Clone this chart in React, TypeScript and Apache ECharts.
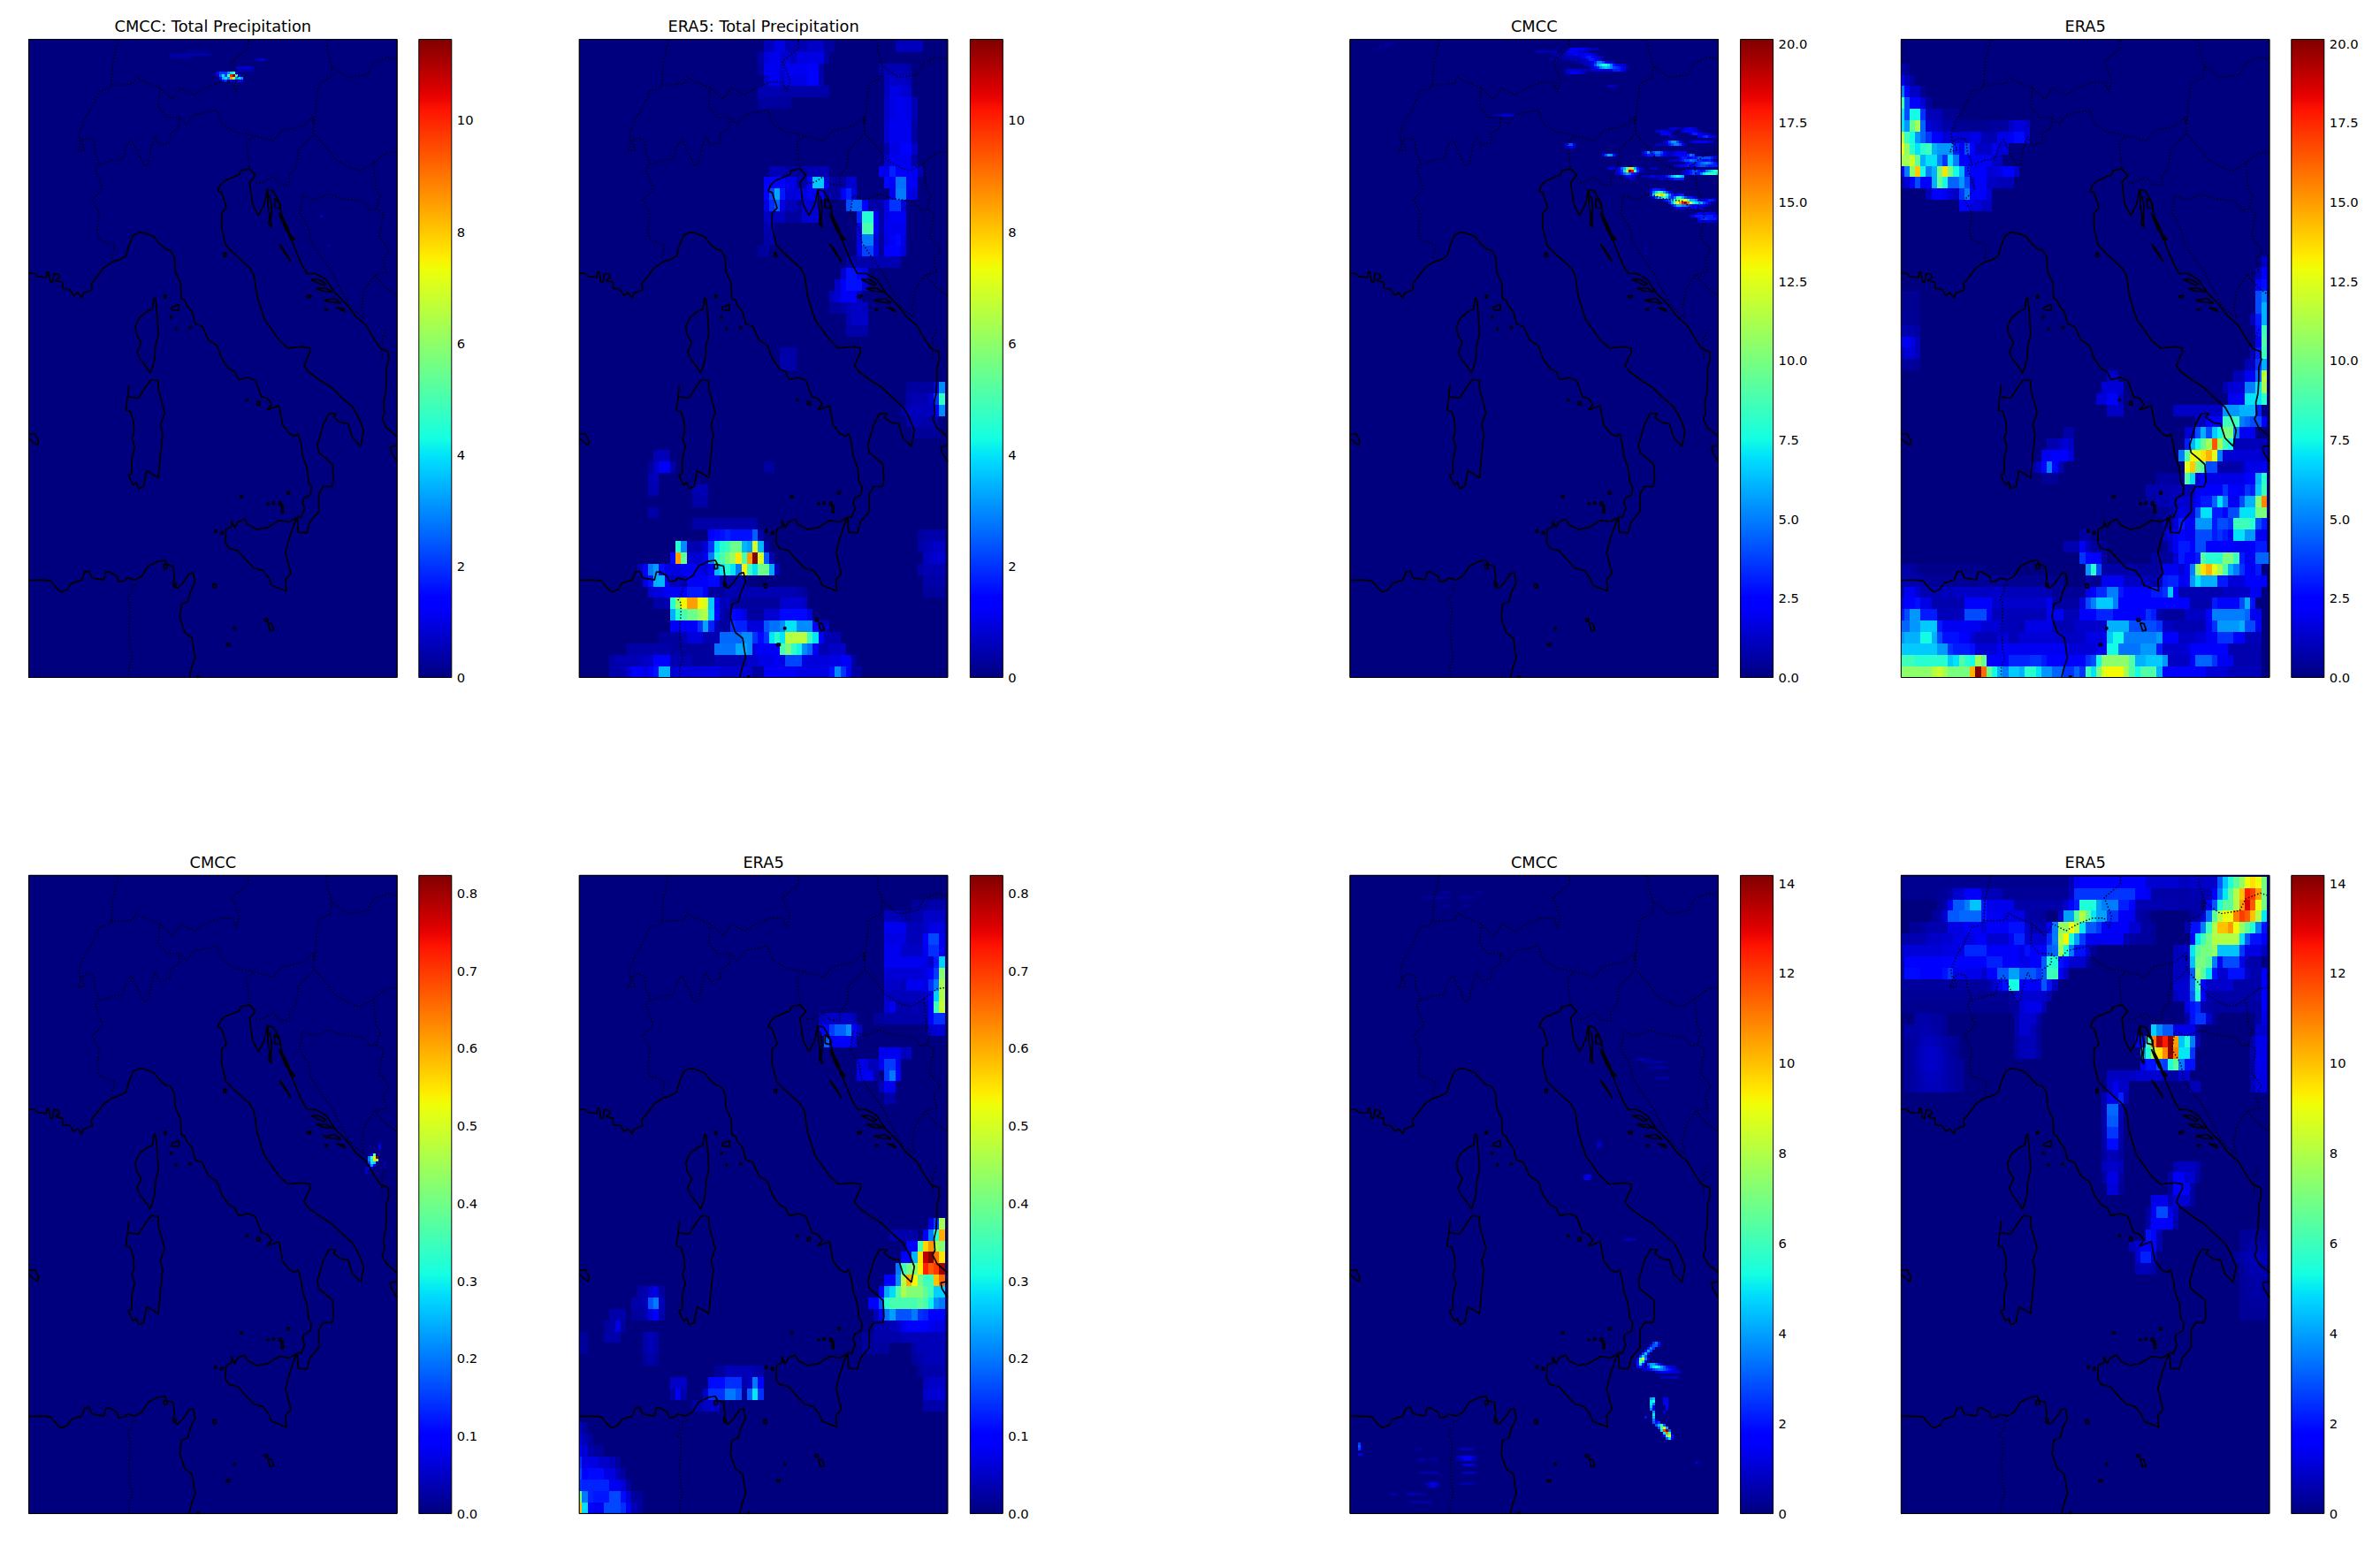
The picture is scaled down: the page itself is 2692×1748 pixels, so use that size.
import React, { useEffect, useRef } from "react";
import * as echarts from "echarts";

const MAP_W = 1251;
const MAP_H = 2166;
const HALF_H = 1083;
const ERA_DX = 18.67;
const ERA_DY = 38.6;
const FINE = 9;

// [row from bottom, first column, ...values]
const era5TotalRows: number[][] = [
  [0,6,.4,.4,.5,.8,1.3,1.2,1,1.4,1.6,3.5,3.5,.8,.9,.9,.9,.9,.9,1,1,1,.8,.8,.8,.8,.8,.8,.3,.3,1.2,1.2,1.2,1.2,1.2,1.2,1,1,1,1,1,1,1.6,3,2,1.2,.3,.3],
  [1,6,.4,.5,.5,.5,.5,.6,.7,.7,1.4,1.4,1.4,.5,.5,.5,.5,.3,.3,.3,.3,.5,.5,.5,.5,.5,.5,.7,.7,1,1,1,1.2,1,2.2,2.2,2.2,1,.9,.9,.9,.9,1,1,1.2,1.2,.3],
  [2,9,.3,.4,.4,.4,.4,.4,.4,.4,.3,.3,.3,.3,.3,.3,.3,.3,2.7,2.7,2.7,2.7,3.3,3.3,3,1,1.2,1.2,1.2,1.2,5,5.7,4.7,4.2,3,2.6,1.2,.5,.5,.7,.7,.7],
  [3,15,.3,.3,.3,.3,.5,.9,.9,.9,.5,.5,.5,2.6,2.6,2.6,2.6,3,3,2,1.5,2,4,4.5,4,6.5,6.6,6.6,6.6,4.8,4,1.3,.5,.5,.5],
  [4,17,1.2,1.2,1.2,1.2,1.2,2,3.3,1.8,.6,.3,.3,1.9,1.8,1.8,.9,.9,.9,2.4,2.7,2.7,3,4,4,3,3,3,1.2,.6,.6],
  [5,17,3.4,4.5,5,5.5,5.5,6.2,6.5,3.8,1.3,.5,.3,1.5,1.4,1,.3,.3,.3,.8,.8,.8,1.5,1.5,1.5,1.5,1.5,.9],
  [6,14,.4,.4,.5,4.5,6,7.4,8.5,8.5,7.4,7,3.7,1.2,.6,.6,.3,.3,.3,.3,.3,.3,.3,.3,.3,.7,.8,.8,.8,.7],
  [7,13,.8,.9,1,1.2,1.2,1.2,1.2,1.7,1.7,1.7,1.2,.3,.3,.3,.5,.5,.5,.5,.5,.5,.5,.5,.5,.5,.5,.5,.5,.4,.3],
  [7,63,.3,.3,.3,.3],
  [8,12,1,1.6,3.4,3.5,1.2,.6,.6,.6,1.2,1.2,1.2,1.2,1.5,1.5,.4,.4,.4,.4,.3],
  [8,63,.4,.4,.4,.4],
  [9,11,.6,1.2,2.8,3.2,1.5,1,1,1,1.2,1.2,1.2,1,.8,1.2,3.5,4,4.5,4,2.8,7.5,4.8,4,5.5,5.5,3.3,.6],
  [9,62,.4,.5,.5,.5,.5],
  [10,17,1.5,8.5,5.5,.8,.8,.8,1.2,2.8,4.5,5,5.7,6.2,7.6,5,8.5,11.4,7,2.4,.5],
  [10,63,.6,.7,.8,.8],
  [11,18,4.5,3,.5,.5,.5,.9,2,4,4.5,4.8,5.5,5.5,3.5,3.2,7,3.5,.4],
  [11,62,.4,.5,.6,.7,.7],
  [12,24,1.3,1.5,1.6,1.8,1.6,1.6,1.6,1.6,2.5,.4],
  [12,62,.3,.4,.4,.4,.4],
  [13,21,.4,.4,.4,.4,.4,.4,.4,.4,.4,.4,.4,.4],
  [14,13,.4,.4],
  [15,21,.4,.4,.4],
  [16,13,.5,.5,0,0,0,0,0,0,.5,.5,.5],
  [17,13,.5,.6],
  [18,13,.3,.7,1.2,1.2,.4],
  [18,34,.3,.3],
  [19,14,.5,.6,.5],
  [21,61,.25,.25,.25,.25,.25],
  [22,60,.4,.5,.5,.4,.4,.3],
  [23,59,.4,.5,.6,.6,.6,.6,1.2,3],
  [24,60,.4,.5,.5,.5,.8,2,4.7],
  [25,60,.3,.3,.3,.3,.3,.8,3],
  [27,37,.4,.4,.4],
  [28,37,.4,.4,.4],
  [30,49,.4,.4,.4,.4],
  [31,49,.5,.7,.7,.7],
  [32,46,.3,.3,.4,.6,.7,.7,.6],
  [33,46,.6,.8,1.2,1.2,1.2,.6],
  [34,47,.7,1.2,1.6,1.6,1.6,.8],
  [35,48,.8,1.6,1.6,1.3,1],
  [36,49,.4,.4,.4,.4,.4,.5,.5,.5,.5,.5],
  [37,33,.3,.3],
  [37,51,1,2.2,2.2,1,.3,1.3,1.3,1.3,.9],
  [38,34,.4,.4],
  [38,51,1,2.8,2.8,.8,.3,1,1.2,1.5,1],
  [39,34,.5,.5],
  [39,51,1.1,5,5,1.2,.4,1.1,1.1,1.1,1.1],
  [40,34,.7,.6,.6,.6,.3,.3,.3,.8,.8,.8],
  [40,51,1.8,4.5,4.5,1.1,.4,1,1.2,1.2,1.2],
  [41,34,1,1.9,2.5,1,.6,.6,.3,.8,.8,.8],
  [41,49,2.3,2.6,2.6,1.3,.4,.4,.4,1,2,2,.9],
  [42,34,1.3,2.2,3.3,1.7,.9,.9,1,1,1.2,1.2,1.2,.4,.3,.3,1.2,1.8,1],
  [42,57,1.1,2.8,2.8,1.1,.9],
  [43,34,1.3,1.3,1.3,1.3,1,1,.4,.4,1.2,3.7,3.7,1.1,.3,.3,.3,.8,.8],
  [43,56,1.5,1.3,2.7,2.7,1.2,1.2],
  [44,35,.5,.5,.5,.3,.3,.3,.3,.5,.5,.5,.5],
  [44,55,1.1,1.1,1.8,1.3,1.2,1.2,1.2,.5],
  [45,56,.8,1.1,1.1,1.1,1.1,.3],
  [46,56,.4,1,1,1.3,1.3,.7],
  [47,56,.8,1.1,1.1,1.1,1.1,.3],
  [48,56,.8,1.1,1.1,1.1,1.1,.3],
  [49,56,.7,1,1.1,1.1,1,.5],
  [50,33,.3,.3,.3,.3,.3,.3],
  [50,56,.7,1,1.1,1.1,1,.5],
  [51,33,.5,.5,.5,.5,.4,.4,.4,.4,.4,.4,.4,.4,.4],
  [51,56,.6,1,1,.8,.8],
  [52,34,.7,1.1,1.1,.7,1,1,1,1,1.25,1.25,.5],
  [52,56,.6,.7,.7,.7,.6],
  [53,33,.3,1.1,1.1,1.1,.8,1.1,1.1,1.1,1.1,1.25,1.25,.4],
  [53,55,.4,.5,.5,.5,.5,.4],
  [54,33,.4,.9,1.1,1.1,.8,.8,.6,1,1,1,1,1,.4],
  [55,34,.6,.6,1,1,.5,.5,.5,.5,.7,.7,.7,.3,.3],
  [55,58,.6,.6,.6,.6,.6],
];

const era5BandARows: number[][] = [
  [0,0,.58,.28,.1,.08,.08,.16,.16,.16,.14,.08,.04,.02],
  [1,0,.4,.2,.13,.12,.12,.12,.16,.16,.11,.06,.02,.02],
  [2,0,.14,.13,.13,.13,.13,.13,.08,.08,.06,.02],
  [3,0,.16,.1,.11,.11,.11,.07,.07,.04,.02],
  [4,0,.14,.07,.07,.07,.05,.05,.04,.02],
  [5,0,.1,.06,.03,.02,.02],
  [6,0,.07,.04,.02],
  [7,0,.05,.02],
  [9,21,.03,.03,.05,.05,.05],
  [9,63,.03,.03,.03,.03],
  [10,17,.03,.08,.03,0,0,0,.05,.14,.14,.14,.2,.2,.17,.02,.18,.29,.14],
  [10,63,.05,.06,.06,.06],
  [11,17,.05,.05,.05,0,0,0,0,.11,.11,.11,.14,.14,.14,.03,.05,.2,.09],
  [11,63,.04,.05,.05,.05],
  [12,25,.02,.02,.04,.04,.04,.04,.04,.03,.03],
  [12,62,.02,.03,.03,.03,.03],
  [13,12,.02,.03,.02],
  [13,61,.02,.03,.04,.04,.04,.04],
  [14,0,.02,.02,0,0,0,0,0,0,0,0,0,0,.03,.04,.03],
  [14,52,.02,.02,.02,.02,.02,0,0,0,0,.03,.04,.04,.04,.04,.04],
  [15,0,.02,.02,0,0,0,.03,.03,.03,0,0,0,0,.03,.04,.03],
  [15,52,.02,.02,.03,.03,.03,.03,.03,.04,.04,.04,.04,.04,.04,.04,.04],
  [16,5,.02,.03,.07,.02],
  [16,54,.03,.03,.03,.04,.05,.08,.1,.09,.09,.09,.08,.07,.07],
  [17,6,.03,.03,.03,0,.02,.02,.03,.07,.1,.03],
  [17,54,.04,.1,.2,.23,.17,.17,.17,.2,.14,.13,.1,.1,.1],
  [18,10,.03,.03,.04,.17,.2,.04],
  [18,53,.1,.1,.17,.33,.36,.36,.36,.36,.36,.38,.36,.3,.22,.2],
  [19,11,.03,.03,.06,.07,.02],
  [19,55,.1,.24,.28,.37,.46,.42,.42,.42,.38,.35,.27,.27],
  [20,56,.09,.1,.22,.47,.6,.53,.4,.35,.35,.58,.66],
  [21,58,.2,.35,.4,.42,.54,.72,.67,.7,.8],
  [22,59,.1,.1,.25,.55,.78,.82,.65,.55],
  [23,60,.1,.1,.36,.56,.62,.45,.42],
  [24,57,.03,.03,.03,.03,.03,0,.09,.2,.33,.6],
  [25,64,.07,.15,.45],
  [36,56,.03,.03],
  [37,55,.04,.08,.08],
  [38,51,.08,.08,.08,.03,0,.15,.2,.1],
  [39,51,.07,.07,.04,.04,.08,.15,.15,.08],
  [40,55,.08,.08,.08,.08,.04,.05],
  [41,45,.18,.1,.1,.1,.1,.06],
  [42,44,.1,.1,.15,.18,.18,.22,.1,.05],
  [42,64,.06,.06,.06],
  [43,44,.04,.05,.05,.05,.05,.05,.04,0,0,0,.02,.02,.03,.03,.03,.03,.03,.03,.03,.03,.09,.14,.14],
  [44,56,.06,.08,.03,.03,.03,.04,.03,.03,.1,.35,.48],
  [45,56,.05,.04,.04,.04,.04,.04,.04,.05,.1,.27,.46],
  [46,56,.05,.05,.05,.04,.08,.08,.08,.07,.14,.2,.45],
  [47,56,.06,.06,.06,.06,.06,.06,.06,.07,.09,.15,.42],
  [48,56,.08,.08,.08,.08,.08,.08,.08,.07,.05,.12,.27],
  [49,56,.08,.08,.08,.05,.05,.05,.05,.08,.14,.14,.08],
  [50,56,.07,.07,.07,.07,.04,.04,.04,.09,.16,.16,.08],
  [51,56,.08,.08,.08,.08,.04,.04,.04,.05,.07,.07,.07],
  [52,56,.04,.04,.04,.02,.02,.03,.03,.05,.05,.05,.05],
  [53,61,.02,.02,.02,.03,.03,.03],
];

const era5BandBRows: number[][] = [
  [0,0,10.5,10.5,10.5,10.5,10.5,10.5,11.5,12,11,10,10,10,10,14.5,20.2,16,9.5,7.5,6,5,6.5,6.5,6,8,8,7,5.5,5.5,4.5,4.5,3.5,3.5,4.5,3.5,8.5,7,10,12.5,13,13,13,11,9,7.5,9,9,9,6,2.5,2.5,2.5,2.5,2.3,2.3,2.3,2.3,1.5,1.5,1.5,1.5,1,1,1,1,1,1],
  [1,0,8.5,8.5,8.5,8,8,8,8,8,8,6.5,7,9,8,7.5,11,9.5,2.5,2.5,2.5,2.5,3.2,3.2,3.2,3.2,3.5,3.5,3,2.5,2.5,2.5,2.2,2.2,2.2,2.2,3.5,4,7.5,10.5,10.5,10.5,10.5,10.5,9,6,6,6.5,6.5,6.5,5.5,1.2,1.2,1.2,1.2,2.5,4.5,4.5,4.5,3.5,2,2,2,.8,.8,.8,.8,.8],
  [2,0,6.5,6.5,6.5,6.5,6.5,6.5,6.5,5.5,5.5,3.5,3,3,3,2.8,1.5,1.5,1.5,1.5,2,2,2,2,2,2,2,2,2,2,2,2,2,1.5,1.5,1.5,1.5,1.5,2,2,7.5,7.5,4.8,4.8,4.8,4.8,5.5,5.5,5.5,3,1.3,1.3,1.3,1.3,1.5,2.5,2.5,2.5,2.5,2.5,2.5,2.5,.8,.8,.8,.8,.8,.8],
  [3,0,5.5,6,6,6,7.5,7.5,6,4,2.8,2.8,2.8,2.5,2.5,1.5,1,1,1,1,1.5,1.5,1,1,1.5,1.5,1.5,1.5,1.5,1.5,1.5,1.2,1.2,1.2,1.2,1.2,1.8,1.8,1.8,1.8,6.5,7.5,7.5,5,5,5,5,5,5,5.5,2.2,2.2,2.2,1.2,1.2,1.2,1.5,1.5,2,2,3.5,3.5,3.5,2.5,2.5,1,1,1],
  [4,0,4.5,4.5,5.5,5.5,6.5,6.5,6.5,3,2,2,2,2,2,2,2,1.5,1.5,1.5,1.5,1,1,1,.8,1.8,1.8,1.8,1.8,1.8,.9,.9,.9,.9,1.3,1.3,1.3,1.3,1.3,1.3,6,6,6,6,4,4,4,4,4,3.5,1.2,1.2,.9,.9,.9,.9,.9,.9,2,3.5,5.5,5.5,5.5,5.5,6,4,4,2],
  [5,0,3,4,5.5,5.5,3,3,3,1,1,1,1,1.2,4,4,4,4,2,1,1,1,1,1,1,1,1,1,.9,2,2,2,1,1,1,2.2,2.2,2.2,3.2,3.2,3.2,2.2,2.2,2.2,2.2,2.2,2.5,3.5,3,.8,.5,.5,.5,.5,1.2,1.2,1.2,1.2,2.5,5,5,5,5,5,5,4.5,2,2],
  [6,0,1.8,2.3,2.3,2.8,1.8,1.8,.8,.8,.8,.8,.8,.8,2.4,2.4,2.4,2.3,2.3,1.3,1.3,1.3,1.3,1.3,1.3,1.3,1.3,1.3,1.3,2,.6,.6,.6,.6,.6,1.7,4,5,6.5,6.5,6.5,5,2.5,2.5,2.5,2.5,2.5,2.5,2.5,2.5,2.5,2.2,2.2,2.2,2.2,.8,.8,.8,.8,3,2.6,2.6,2.6,2.6,4,6,2.8],
  [7,0,.9,2,2,1.5,.9,.9,.9,.9,1.2,.9,1.2,1.2,1.2,1.2,1.2,1.2,1.2,1.3,1.3,1,1,1,1,1,1,1,1,.8],
  [7,28,.4,.4,.4,.4,.4,.4,1.8,2.4,3.3,3.3,5,5,3,2.5,2.5,2.5,2.5,2.3,3,3,3.5,6.5,2.2,.9,.9,.9,.9,.9,.8,.8,.8,1.2,1.2,1.2,1.2,1.2,2,2],
  [8,0,.8,.9,.9,.8,.6,.4,.4,.4,.4,.4,.4,.4,.4,.4,.4,.4,.4,.4,.4,.4,.4,.3,.3,.3,.3,.3,.3,.3,.3,.3],
  [8,34,.7,.3,.3,2,2,2,2,1.2,1.2,1.2,1.2,1,.7,1,3,3.2,3.2,2,2,5.5,7,6,6,6,3,3,1.5,1.5,1.5,2.5,2.5,2.5,2.5],
  [9,0,.7,.7,.6,.4,.2,.2,.2,.2,.2,.2,.2,.2,.2,.2,.2,.2],
  [9,34,5.5,8,4,.7,.7,.7,.7,.7,.7,.5,.5,.5,.5,.5,2,2,2,1.5,2.5,5,10.5,13.5,14.5,12.5,11,9,6,5,3.5,2.5,2,3],
  [10,33,3.5,2.5,2.5,2.5,.5],
  [10,46,.6,.6,.5,.5,1.5,3,2.5,2.5,3,9,8,8,8,10,10,8.5,3,2,2,4.5,4.5,4.5],
  [11,30,.8,.8,.8,2,1,.6,.4,.4],
  [11,48,.3,1.2,2,3,3,2.5,4,4,2.3,2.3,2.3,2.3,2.3,2,2,2,2.5,3,3],
  [12,33,.6,.6],
  [12,48,1.3,1.3,2,2.6,2,2,4,4,4,3,3.5,3,2,7,7,5.5,5.5,2,2],
  [13,48,.7,.6,1.5,3,2.5,2,5.5,5.5,5.5,3,4,4,3.5,8.5,8.5,8.5,8,4,3],
  [14,47,.4,.4,.5,1.2,1.8,1.5,1.5,4,7,7,3,3,2.5,4,4,7,7,7,10,10],
  [15,45,.5,.5,.8,.8,1,1,1.4,1.4,1.4,2.2,3,3,4.5,7,5,2,2,4,6,6,10.5,15.5],
  [16,45,.8,.8,.8,.8,.8,1,.8,.8,.8,2,2.2,2.2,2.2,2.2,3.5,2.5,2.5,2,3.5,3,6.5,8.5],
  [17,26,.4,.4,.4],
  [17,47,.6,.6,.6,.5,.6,9,7,1.5,2.5,1.8,1.8,1.8,1.8,1.8,1.8,1.8,2.5,2.5,6,8],
  [18,24,.6,1.2,2.6,5,2.5,1],
  [18,52,12.5,14,10,9,4,4,.8,.7,.7,.7,.9,1.8,1.8,1.8,2],
  [19,26,2,2,2.5,2.5,2.5,1.5],
  [19,51,5,9,13,12.5,13.5,14.5,12.5,5,1.5,1.5,1.5,1.5,1.5,1.5,1.5,1.2],
  [20,27,.8,.8,1.2,1.5,1.1],
  [20,52,3,6,7.5,9.5,11,16.5,11,8.5,7.5,1,1,1,1,1,1],
  [21,30,.7,.7],
  [21,52,1.5,1.5,4,6,4,6.5,7.5,10,10,5,2,2,2],
  [22,54,1,1,2.5,2.5,2.5,8.5,8.5,8.5,5,4.5,4,4,2.5],
  [23,38,1.2,1.2,1.2],
  [23,50,1.2,1.2,1.2,1.2,1.2,1.2,1.2,1.2,1.2,5.5,5.5,5.5,6,6,6,3],
  [24,36,1.5,1.5,2.5,2.5,1],
  [24,60,2,2,2,7,7,7,8],
  [25,37,1.5,1.5,1.5,1.5],
  [25,59,.8,1.5,1.5,1.5,5,5,7,11],
  [26,38,1.2,1.2],
  [26,61,1,1,2,2,4.5,11.5],
  [27,0,.5,.5,.5,.4],
  [27,63,1,1,3.5,6],
  [28,0,1.2,1.5,1.5,1],
  [28,64,1,3,8.5],
  [29,0,2,2,1.8,1],
  [29,65,2,9],
  [30,0,.8,.8,.8,.6],
  [30,65,2.8,8.5],
  [31,0,.4,.4,.4,.3],
  [31,64,1,3,6],
  [32,0,.3,.3,.3,.3],
  [32,65,4,6],
  [33,0,.3,.3,.3,.3],
  [33,65,4,5],
  [34,65,2.5,2.8],
  [35,65,1,2.4],
  [36,66,1.3],
  [41,11,2.5,2.5,1.6,1.6,1.2,1.2],
  [42,5,1,2.2,2.2,2,1.5,1.2,3.5,5,2.5,2.4,2.4,1.5],
  [43,0,.8,1.5,2.5,4,2.5,2.5,6,9.5,7.5,4.5,4.5,5.5,4,1.5,2.2,2.2,1.2,1.2,1,1,1],
  [44,0,2.5,5,10.5,14,7.5,5,6,10,13.5,10,7.5,6,3,2.2,2.2,2.2,1.5,1.5,1.7,2.5,2.5,1.4],
  [45,0,11,11,12,9.5,6,7,7,5,3.5,7,5,2.2,2.5,2,2,2,2,1.2,1.2],
  [46,0,12.8,10.5,8,7,8,8.5,6,5.5,5.5,5.5,3,2,4,2.2,1.2,1.2,1.2,2,1.5,1.5],
  [47,0,11.5,8.5,7.5,5.5,4.5,3.5,2.2,2.5,1.5,1.5,1.5,1.5,1.5,1.8,1.8,.9,.9,.9,1.8,1.8,2,2.7,2.7,1.5],
  [48,0,7,5.5,9.5,11,4.5,1.5,1.3,1.1,.7,.7,.4,.4,.3,.3,.3,.3,.4,.5,.5,.6,1.2,1.6,1.6,1.2],
  [49,0,7,4,7.5,7.5,3.5,1,1,1,.4,.3,.3],
  [50,0,8.5,4,2.5,2.5,1.5,.5],
  [51,0,5,2.5,1.2,1.2,.3],
  [52,0,2.5,1,.6],
  [53,0,.8,.4],
];

const era5BandCRows: number[][] = [
  [17,62,.3,.3,.3,.3,.3],
  [18,62,.3,.3,.4,.4,.4],
  [19,62,.3,.4,.4,.5,.4],
  [20,62,.3,.4,.5,.5,.5],
  [21,43,.6,.7,.7,.5],
  [21,62,.3,.5,.6,.6,.6],
  [22,43,1,2.2,2.2,1],
  [22,61,.3,.5,.6,.7,.7,.7],
  [23,42,.7,1,1.5,1.5,1.8,.5],
  [23,62,.3,.4,.5,.5,.4],
  [24,45,2,1.8,.6],
  [24,62,.3,.3,.3,.3,.3],
  [25,45,.5,1.6,1.6,1.6,1.6,.5],
  [26,45,.4,1.4,2.8,2.8,1.3,.8],
  [27,46,1.3,1.3,1.3,.6,1,1,1,.4],
  [28,38,1.1,1.1,.3,0,0,0,0,0,0,0,0,.3,1.7,1.7,1.7,.4],
  [29,37,.4,1.2,1.2,.4,0,0,0,0,0,0,0,0,.5,1.5,1.5,1,1,.4],
  [30,37,.7,.9,.9,.7,0,0,0,0,0,0,0,0,0,.6,.8,.8,.8,.6],
  [31,37,.4,.7,.7,.4],
  [32,37,.5,1.9,1.9,.5],
  [33,37,.5,2.5,2.5,.6],
  [34,37,.6,3,3,.6],
  [35,37,.5,3.2,3.2,.7],
  [36,37,.6,1.3,1.3,2.2,.6],
  [37,1,.3,.4,.5,.6,.7,.7,.7,.6,.5,.4,.3],
  [37,38,.9,1.3,.9,.9,0,0,0,0,0,0,0,0,0,0,0,.7,.7],
  [37,64,.6,1.2,1.2],
  [38,1,.3,.4,.5,.7,.8,.8,.7,.6,.5,.4,.3],
  [38,38,.8,.8,.8,.8,.8,1,1,1,1,1,.5,.5,.5,1,1],
  [38,64,.6,1.2,1.2],
  [39,1,.3,.4,.6,.8,.9,.9,.8,.6,.5,.4,.3],
  [39,44,1.4,2,2,2.8,2.6,5.5,6.5,3.5,2,2],
  [39,64,.6,1.3,1.3],
  [40,1,.3,.4,.6,.8,.9,.9,.8,.6,.4,.3],
  [40,21,.4,.7,.7,.7,.4],
  [40,44,4,5.5,8,9.5,10.8,14,11,5,5,2.5],
  [40,64,.6,1.3,1.3],
  [41,1,.3,.4,.5,.7,.8,.7,.6,.5,.4,.3],
  [41,21,.4,.7,.7,.7,.4],
  [41,43,1.2,2,6,11,13.5,12.5,14,10.5,4.5,5.5,3.5,.6],
  [41,64,.6,1.3,1.3],
  [42,1,.5,.5,.5,.6,.6,.5,.4,.3],
  [42,21,.5,1,1,.7,.3],
  [42,46,4.7,3.7,3,3,1.3,1.3,1.3,1.3,.4],
  [42,65,1,1],
  [43,3,.5,.5,.5,.4,.4,.3],
  [43,21,.5,1,1,1,.5],
  [43,52,.5,2,2.5,2.5,1,.3],
  [43,65,.5,1.2],
  [44,0,.2,.2,.2,.2,.2,.2,.2,.2,.2,.2,.2,.2,.2,.2,.2,.2,.2,.2,.2,.2,.3,.4,1,1.3,1.3,1.3,.7],
  [44,52,1.2,2,2.3,.6,.5,.4,.4,.4,.4,.4,.4,.4,.4,.4,1.5],
  [45,0,.25,.25,.25,.25,.25,.25,.25,.25,.25,.25,.25,.25,.25,.25,.25,.25,.25,.25,.25,.25,.4,.9,1,1,1,1,1,.6],
  [45,50,.8,1,1,3,5.5,1.6,.6,.5,.5,.5,.5,.5,.5,.5,.5,.6,1.7],
  [46,0,.35,.35,.35,.35,.35,.35,.35,.35,.35,.35,.35,.35,.35,.35,.35,.4,.5,1,1.5,2,5.3,5.3,1.5,1.6,1.6,1.6,3,2,.8],
  [46,50,1,1,1,3.3,6,1.8,.9,.9,.9,1,1,.5,.5,.5,.5,.5,1.5],
  [47,0,.6,1.9,1.9,1.9,1.6,1.6,1.6,1.6,2,2.5,1.3,1.3,1.3,1.3,1.3,.9,1.7,1.7,3,3,4,4,3,3,3,2.5,3,6,6,1.5,.8],
  [47,50,.8,.8,.8,3,7.5,6.5,5,2,1,1,2,2,2,.8,.6,.6,1.5],
  [48,0,.7,1.7,1.7,1.7,1.6,1.6,1.6,1.6,1.8,1.8,1.8,1.6,1.6,1.6,1.6,1.6,2.2,2.2,2.2,1.5,1.5,1.5,1.3,1.3,1.7,1.7,3,5.5,5.5,2,1.6,1,1,1,.4],
  [48,50,.8,.8,.9,4.5,7,7,6.5,3.5,1.5,2.8,2.8,2.8,1.3,.6,.5,.5],
  [49,0,.9,1.1,1.1,1.1,1.1,1.1,1.1,1.1,1.2,1.2,1.2,1.2,2.3,2.3,2.3,2.3,1.5,1.5,1.5,1.5,1.5,1.5,1.2,2,1.5,1.7,1.7,3,3.2,7.5,5.5,3.5,2,2,1,.4],
  [49,50,.7,.8,1.2,5,6.5,7,7,7.5,4.5,4.5,4.5,4.5,2.5,1.2,1.2,1.2,.8],
  [50,0,.5,.5,.6,.6,.6,.8,.9,.9,1,1,1.2,1.2,1.2,1.2,1.5,1.5,1,1,1,1,1.4,2.3,2.3,1,1,1,1,2.3,3.5,8,9.2,5.5,4,2.6,1.4,1.4,1.4,1.4,1.4,1.4,1.4,.6,.5,.4,.4,.4,.3],
  [50,53,1.5,5,6,7,8,8,8,8,8,5,3,2,2,1.5],
  [51,2,.3,.3,.4,.6,.6,.6,.6,1.2,1.2,1.2,1.5,1.5,1.5,1.1,1.5,1.5,1.5,1.5,2,2,2,1,.6,.6,.6,1.6,3.5,7.5,7.5,9,8,5,3,3,2.5,1.5,1.5,1.5,1.5,1.5,1,1,.4,.4,.3],
  [51,52,.6,2,2,3.5,6,8,10,10,10.6,9,7.5,6.5,5.5,3.5,2],
  [52,6,.3,.5,1,3,3,3.2,3.2,3.2,3.2,2,1.4,1.4,1.4,1.2,1.2,1.2,1.2,.5,.4,.4,.3],
  [52,29,1,4,4,6.5,8,6.5,5,4,4,2.5,2.5,1.5,1.5,1.4,.5,.4,.3],
  [52,53,.4,.5,1,3.3,6.5,8,9,9,11,12,11.5,10,8,5],
  [53,7,.3,.5,1.5,3,3,3.5,4.5,4.5,2,1.3,1.3,1.3,1.3,1.3,.5,.5,.5,.5,.5,.5,.5,.5,.5],
  [53,30,1,1.6,2.2,5.5,5.5,5.5,4,3.5,3.5,3.5,2.2,2.2,1.8,.6,.6,.6,.6,.6,.6,.6,.6,.5,.5,.5,.5],
  [53,56,1.5,3,5.5,6.5,6.5,8,10.5,13,11.6,9,7],
  [54,0,.2,.2,.2,.2,.2,.2,.2,.3,.3,.5,1,1,1.5,1.5,1.5,.7,.7,.7,.7,.3,.3,.3,.3,.3,.3,.3,.3,.3,.3,.3,.3,.8,2.5,2.5,2.5,2.5,2.5,2.5,2.5,2.5,2.5,2.5,2.5,1.7,1.7,1.4,.5,.5,.5,.5,.5,.5,.5,.6,.6,.6,.6,1.6,3.5,5,6.5,8,10,12.5,12,10.5,7],
  [55,0,.2,.2,.2,.2,.2,.2,.2,.2,.2,.2,.2,.2,.2,.2,.2,.2,.2,.2,.2,.2,.2,.2,.2,.2,.2,.2,.2,.2,.2,.2,.2,.7,1.4,1.7,1.7,1.7,1.7,1.7,1.7,1.7,1.7,1.7,1.7,1.7,1.7,1,1,1,1,1,1,.8,.8,.9,.9,.9,.9,.9,3,4.5,5.5,6.5,7.5,9,9.5,9,7],
];

// [row from top, first column, ...values] on the fine CMCC mesh
const cmccTotalRows: number[][] = [
  [4,60,.2,.2,.2,.2,.2,.2,.2,.2],
  [5,53,.3,.3,.4,.4,.4,.4,.4,.4,.4,.4,.4,.4,.4,.4,.3,.3],
  [6,53,.2,.2,.3,.3,.3,.3,.3,.3,.3],
  [7,85,.3,.5,.8,.8,.4],
  [10,78,.6,.8,.8,.8,.8,.8,.6],
  [11,79,.5,.5,.5,.5,.5,.5],
  [12,71,1.5,2,2,2,3,4,5,1.5],
  [13,71,1,2.5,4,2,5,10,11.4,5,1],
  [14,72,1.5,3.5,4,3,8.5,6,3,4,3],
  [15,73,1.5,2,0,1,.5,0,1.5,1],
  [66,110,.8],
  [77,113,.4],
];

const cmccBandARows: number[][] = [
  [101,132,.06],
  [102,132,.08],
  [103,132,.05],
  [105,129,.1,.4],
  [106,128,.2,.35,.5,.82],
  [107,128,.2,.3,.55,.4],
  [108,128,.15,.3,.28,0,0,0,.04],
  [109,128,.1,.22,.1,0,0,0,.04],
  [110,127,.05,.08,.05,0,0,0,0,.04],
  [111,127,.05],
  [112,127,.04],
];

const cmccBandBRows: number[][] = [
  [1,13,.4,.4,.4,.4],
  [2,11,.4,.4,.4,.4],
  [3,9,.4,.4,.4],
  [3,82,1.5,2,2.5,2.5,2,2,1.5,1.5,1.5,1,1,.8],
  [4,70,1,1,1,1,.8,.8,.8,.8,0,0,0,1.5,2,2,2,2,1.5,1.5,1,1],
  [5,76,.6,.6,.6,.6,1,1,1.5,1.5,2,2,1.5,1.5,2,2,2,1.5,1],
  [6,78,.6,.6,.6,1,1,1,1,1,1,2,2,3,3,2.5,2,1.5,1,.8],
  [7,75,.6,.6,.6,0,0,.6,.6,.6,1,1,1,1,1,1,2,3,3,2.5,1.5,1],
  [8,85,.6,.6,1,1,1,1,1.5,3,5,5,4,2.5,1.5,1.5,1],
  [9,88,1,1,1.5,2,4,6,7,8,8,7,5,3,2,1.5,1.5,1],
  [10,90,1,1,2,3,5,6,6.5,6,5,4,3.5,3,2.5,2,1],
  [11,81,1,1.5,1.5,1.5,1.5,1.5,1,1,.8,1,1.5,1.5,1.5,1.5,1.5,1.5,1.5,2,3,3,3,2.5,1.5],
  [12,81,1,1.5,2,2,2,1.5,1.5,1],
  [17,97,1,1.2,1,.6],
  [28,54,.6,.6,1,1.5,1.5,1.5,1.5,1,.6],
  [33,120,1,1.5,1.5,1,.8,.8,1.5,2,2,1.5,1],
  [34,115,1,1.5,2,2,1.5,1,1,0,0,0,1.5,2.5,2.5,2,2,1.5,1],
  [35,117,2,2.5,2.5,2,0,0,0,0,0,0,0,1.5,3,3,2.5,2,1.5,1,1],
  [36,120,1,1,.8,0,0,0,0,0,0,0,0,1.5,2,3,3.5,2.5,2,1.5],
  [38,118,1,2,4,5.5,5.5,4,2,1,0,0,1,1.5,2,2,2.5,2.5,2,1.5,1.5],
  [39,81,2,4,4,2],
  [39,115,1,1,1,1,1.5,3,4,5,5,4,2,1],
  [40,81,1,2,2,1],
  [42,110,1.5,3,5.5,3,4,5,5,4,2,1.5,1,1,1.5,2,2,2,2],
  [43,95,2.5,4,6,5.5,3,1],
  [43,110,1,1.5,3,3,3,4,4,3,2,1.5,1,1.5,2,2.5,2.5,2,2,3,5,4],
  [44,124,2,3,3,2,2,3,3,4,4,4,4,4,3,2,1],
  [45,120,1,1,1.5,1.5,2,3,4,4,5,4.5,4,3.5,3,2,2.5,3,2],
  [46,126,1.5,2.5,3,3.5,3,3.5,4.5,5,5.5,5,4,3,2.5],
  [47,122,1,1.5,2,2,2.5,3,2.5,2,3,3.5,4,4,3.5,3,3,3,3],
  [48,97,1.5,2,1.5,1.5,2.5,4.5,6,9,14,10,6,3,1.5,.8,0,0,1,1,1],
  [49,100,1.5,2,3.5,7,14,20,18,9,4,1.5,.8],
  [49,125,1.5,1.5,2,3,4,4,3,2.5,3,5,6,7,8,8],
  [50,100,1,1.5,3,4.5,6,5,3,2,1],
  [50,125,1,1.5,2.5,3,4,3,3,5,7,8,8.5,8.5,8,7],
  [51,103,1,2,2,1.5,1,0,0,1,1,1,2,2,1.5,1,1,1.5,3,4,6,7,7.5,7,6],
  [52,105,1,1,.8,0,0,0,0,0,0,0,0,1,1.5,1,0,1.5,2.5,3,3,3,3],
  [56,113,1.5,3,3,3,2,2],
  [57,113,2.5,5,7,9,8,6,4,2,1],
  [58,113,3,7,11,12,14,12,8,5,3,2,2.5,3,3],
  [59,114,2,4,6,7,9,7,4,3,5,8,8,6,4,3,3,2,1],
  [60,118,2,3,4,6,8,10,12,12,13,9,6,6,5,3,2,1.5,2,3,3,2],
  [61,120,3,6,10,13,15,18,19,16,12,8,7,7,6,4,3,2],
  [62,121,2,4,6,6,5,5,4,3,2,2,2.5,2,2,1],
  [63,122,1,2,2,1.5,1,1,1.5,2,2,1.5,1.5],
  [65,130,1,2,2,2,2,1.5,1.5,1.5],
  [66,128,1.5,2,3,3,3,3,3,3,3,2.5,2.5],
  [67,131,2.5,3,3.5,3.5,3,3,3,2.5],
  [68,131,1,1.5,1.5,1.5,1.5,1,1,1],
  [78,111,.6],
  [80,111,.6],
];

const cmccBandCRows: number[][] = [
  [6,34,.3,.4,.4,.3,0,0,0,0,0,0,0,0,0,.2,.3,.3],
  [8,27,.2,.3,.3,.3,.3,.3,.5,.5,.4,.3,.3,0,0,0,.3,.4,.4,.4,.3,.3],
  [11,34,.3,.4,.4,.3,0,0,0,0,.3,.4,.3],
  [69,108,.4,.6,.6,.4,.3,.3],
  [70,110,.3,.4,.4,.3,.5,.5,.5,.4,.3],
  [72,112,.3,.4,.4,.5,.5,.4,.4,.3],
  [76,115,.3,.4,.5,.5,.4,.3],
  [100,93,.5,.5],
  [101,93,.8,.8],
  [102,93,.7,.6],
  [113,88,1,1.5,1.2],
  [114,88,1.2,1.5,.8],
  [137,103,.5,.7,.7,.6,.5],
  [176,114,2.5,3.5,2],
  [177,113,2,3,3,1.5],
  [178,112,2,3.5,2.5],
  [179,111,2,4,2.5],
  [180,110,2.5,4.5,2],
  [181,109,2.5,5,3],
  [182,108,1.5,6,9,3.5,1],
  [183,108,2,7.5,5,1.5],
  [184,108,2,5,2,0,3,4,4,3,2,1],
  [185,108,1.5,2,.8,1,2,4,5,5.5,5,4,3,2,1.5,1,.8],
  [186,110,.8,1,1.5,2,2.5,3,3.5,3.5,3,2.5,2,1.5,1,.8],
  [187,115,1,1,1.5,1.5,1.5,1.5,1,1,1,.8],
  [189,117,.8,.8,.8,.8,.8,.8,.7],
  [197,113,4,4.5,0,0,0,1.2,1.5],
  [198,113,5,5.5,0,0,0,1.2,1.8],
  [199,113,5,3.5,0,0,0,1.3,1.8],
  [200,113,4.5,1.5,0,0,0,0,1.5],
  [201,113,3.5,1,0,0,0,0,1.3],
  [202,114,4,0,0,0,1.2],
  [203,114,5],
  [204,111,2,0,0,4.5],
  [205,114,3.5,1],
  [206,114,3,2,2.5],
  [207,115,3,4.5,6,3],
  [208,116,3,6,9,4],
  [209,117,5,12,14,3],
  [210,118,5,11,6],
  [211,118,2,6,9,2],
  [212,119,3,5,1.5],
  [214,3,2.5],
  [215,3,3,.5],
  [216,3,2.5,.7,0,0,0,0,0,0,0,0,0,0,0,0,0,0,0,0,0,0,0,0,.4,.4,0,0,0,0,0,0,0,0,0,0,0,0,0,0,.5,.7,.8,.7,.6,.5],
  [218,3,1.2,1],
  [219,40,.7,1,1.2,1.5,1.7,1.5,1,.7],
  [220,25,.4,.5,.6,.4,0,.4,.5,.4,0,0,0,0,0,0,0,.5,.7,1,1.5,1.5,1.2,.8,.5],
  [221,130,.8,.6],
  [222,42,.7,1,1.2,1.2,.8,.5],
  [225,26,.4,.5,.5,.4,.6,.7,.5,.4,0,0,0,0,0,0,0,0,.5,.7,.8,.8,.7,.5],
  [229,28,.5,.7,1.2,1.5,.9,.5,0,0,0,0,0,0,0,.4,.5,.5,.5,.5,.4],
  [230,29,.6,1,1.3,.8,.4],
  [233,15,.4,.5,.4,0,0,0,.5,.7,.7,.5,.5,.4,.4,.4],
  [236,22,.4,.5,.5,.4,.4,.4,.5,.5,.4],
];

const coastTop: number[][] = [
  [0,793,20,795,30,805,60,808,62,790,68,790,72,822,80,825,85,795,100,797,105,808,90,818,115,825,115,845,140,850,152,870,165,860,180,878,185,862,215,850,212,830,240,795,255,775,285,755,310,748,330,735,340,700,355,665,375,655,395,658,425,670,445,695,465,712,480,715,495,740,498,790,515,825,518,880,530,885,538,905,555,925,565,965,590,975,610,1020,640,1040,655,1083],
  [945,1083,955,1065,955,1048,930,1043,880,1048,850,1020,800,950,775,870,765,800,750,775,700,730,670,700,655,640,655,590,672,572,655,520,642,515,650,495,665,480,715,460,720,445,750,440,770,462,750,485,760,560,780,598,800,560,810,510,830,515,850,550,860,600,880,640,900,700,925,760,945,795,975,795,1010,815,1040,860,1080,900,1110,940,1145,970,1175,1020,1195,1050,1222,1060,1222,1083],
  [812,515,812,560,818,600,815,625,825,640,822,615,825,570,818,530],
  [835,540,855,560,855,575,835,570,835,540],
  [850,590,875,640,890,680,905,680,875,650,858,610,850,590],
  [850,695,870,725,890,755,880,735,860,705,850,695],
  [958,815,1000,835,1010,830,985,815,958,815],
  [975,845,1000,855,1035,858,1010,845,975,845],
  [945,870,960,868,955,878,945,875,945,870],
  [1000,885,1040,880,1060,895,1025,892,1000,885],
  [1045,910,1075,925,1070,915,1045,910],
  [1005,915,1015,915,1010,922,1005,915],
  [485,910,510,900,510,920,485,918,485,910],
  [460,868,466,868,466,878,460,878,460,868],
  [480,940,485,940,485,946,480,946,480,940],
  [498,980,502,980,502,986,498,986,498,980],
  [545,976,551,976,551,982,545,982,545,976],
  [662,725,670,725,670,738,662,738,662,725],
  [430,878,435,925,440,1000,430,1040,428,1083],
  [375,1078,368,1060,382,1030,365,1000,362,975,375,945,400,925,420,915,425,880,430,878],
];

const coastBottom: number[][] = [
  [655,0,680,35,700,45,712,72,745,65,770,75,790,130,810,135,825,155,810,175,850,160,862,225,885,255,905,265,915,255,925,290,930,330,945,370,950,420,960,435,958,462,935,475,930,490,937,510,925,540,912,535],
  [912,540,915,590,945,592,955,555,985,520,985,460,1000,435,1030,435,1035,415,1032,360,1010,340,985,320,980,295,990,260,1000,225,1020,187,1045,187,1035,200,1060,218,1085,222,1100,270,1128,298,1138,245,1120,200,1100,165,1060,130,1030,100,990,75,950,45,935,25,945,0],
  [1225,0,1215,30,1215,70,1212,120,1205,150,1208,190,1200,205,1215,235,1251,265],
  [1251,295,1228,300,1232,320,1251,350],
  [428,0,420,30,412,50,400,30,385,10,375,0],
  [340,90,335,135,330,175,345,180,355,210,358,250,350,270,360,300,350,340,350,390,338,395,345,410,355,430,365,420,372,442,390,435,400,382,420,392,440,405,447,330,455,255,447,225,462,185,450,140,440,105,440,75,415,72,395,100,372,135,340,130],
  [688,550,690,570,670,580,668,625,680,645,710,652,730,675,765,712,795,720,815,745,825,770,850,780,875,790,872,750,890,730,880,690,872,660,882,620,895,580,910,540,885,555,850,550,810,575,775,580,745,565,733,545,710,555,700,575,688,550],
  [0,753,45,752,75,755,95,780,110,793,130,785,145,763,180,752,190,725,205,722,215,745,255,752,262,725,275,725,300,740,305,758,325,755,335,745,360,752,385,738,405,705,440,688,462,685,470,700,490,705,495,745,490,768,505,780,525,760,545,730,558,727,565,760,550,790,540,825,518,835,513,880,530,930,555,950,560,985,565,1015,553,1050,545,1083],
  [458,700,468,698,470,712,460,715,458,700],
  [490,762,498,762,500,775,492,775,490,762],
  [0,258,20,255,33,280,30,295,15,285,0,270],
  [632,582,638,582,638,590,632,590,632,582],
  [652,588,660,588,660,596,652,596,652,588],
  [738,138,744,138,744,144,738,144,738,138],
  [775,146,785,146,785,158,775,158,775,146],
  [718,466,726,466,726,472,718,472,718,466],
  [878,452,886,452,886,460,878,460,878,452],
  [810,491,816,491,816,496,810,496,810,491],
  [828,487,834,487,834,494,828,494,828,487],
  [850,487,857,487,858,498,850,498,850,487],
  [858,498,864,498,865,524,859,524,858,498],
  [625,765,635,765,638,778,628,778,625,765],
  [800,883,810,883,812,892,802,892,800,883],
  [812,898,825,900,832,922,820,925,812,898],
  [695,913,701,913,701,919,695,919,695,913],
  [671,968,682,968,682,975,671,975,671,968],
  [570,1078,578,1078,578,1083,570,1083],
];

const borderTop: number[][] = [
  [305,0,285,80,280,155,270,170,240,175,210,240,190,270,170,320,175,360,165,382,190,375,178,345,195,335,220,340,225,385,240,415,225,440,245,490,250,510,215,545,240,590,232,650,240,680,290,700,285,735,280,750],
  [280,155,320,155,355,150,365,128,395,145,445,165,490,205,515,165,560,188,600,165,650,145,690,145,705,178,715,140,700,100,690,75,745,30,745,0],
  [445,165,440,230,470,265,510,265,535,288,565,255,640,240,655,285,700,315,760,325,830,345,860,310,930,295,965,265,970,290,975,225,985,150,1025,130,1030,90,1085,130,1150,120,1170,80,1220,60,1251,70],
  [1010,0,1015,40,1030,90],
  [240,425,285,410,320,405,330,365,348,340,375,395,392,430,405,425,415,370,430,330,445,360,480,350,480,320,510,300,510,265],
  [760,330,740,350,745,405,750,440],
  [965,265,970,320,915,375,910,430,885,465,885,495,850,490,830,465,800,485,765,490],
  [970,320,1010,365,1045,410,1100,440,1130,445,1170,420,1215,385,1251,380],
  [1170,420,1180,510,1195,530,1180,575,1160,580,1135,550,1060,540,1020,525,970,545,930,530,920,590,950,640,960,690,990,735,1030,790,1060,850,1095,910,1135,945],
  [1180,575,1205,590,1190,670,1225,715,1205,750,1215,790,1175,800,1140,850,1130,910,1140,950],
  [1175,800,1215,845,1251,870],
  [1200,1083,1200,1020,1215,985],
];

const borderBottom: number[][] = [
  [365,768,352,770,350,790,335,818,345,830,345,870,340,920,345,990,352,1015,340,1050,340,1083],
];

const panelTitles = ["CMCC: Total Precipitation", "ERA5: Total Precipitation", "CMCC", "ERA5", "CMCC", "ERA5", "CMCC", "ERA5"];
const panelMax = [11.45, 11.45, 20.13, 20.13, 0.8226, 0.8226, 14.17, 14.17];
const tickValues: number[][] = [
  [0, 2, 4, 6, 8, 10],
  [0, 2, 4, 6, 8, 10],
  [0, 2.5, 5, 7.5, 10, 12.5, 15, 17.5, 20],
  [0, 2.5, 5, 7.5, 10, 12.5, 15, 17.5, 20],
  [0, 0.1, 0.2, 0.3, 0.4, 0.5, 0.6, 0.7, 0.8],
  [0, 0.1, 0.2, 0.3, 0.4, 0.5, 0.6, 0.7, 0.8],
  [0, 2, 4, 6, 8, 10, 12, 14],
  [0, 2, 4, 6, 8, 10, 12, 14],
];
const tickDigits = [0, 0, 1, 1, 1, 1, 0, 0];

const panelLefts = [32.6, 655.3, 1527, 2150.4, 32.6, 655.3, 1527, 2150.4];
const panelTops = [44.5, 44.5, 44.5, 44.5, 990.4, 990.4, 990.4, 990.4];
const barLefts = [473.8, 1097.3, 1968.6, 2591.8, 473.8, 1097.3, 1968.6, 2591.8];
const PANEL_W = 416.5;
const PANEL_H = 722;
const BAR_W = 37;
const FONT = "DejaVu Sans";
const NAVY = "#00007f";

function ramp(t: number, pts: number[][]) {
  for (let i = 1; i < pts.length; i++) {
    if (t <= pts[i][0]) {
      const [a, av] = pts[i - 1];
      const [b, bv] = pts[i];
      return av + ((bv - av) * (t - a)) / (b - a);
    }
  }
  return pts[pts.length - 1][1];
}
function jet(t0: number) {
  const t = Math.max(0, Math.min(1, t0));
  const r = ramp(t, [[0, 0], [0.35, 0], [0.66, 1], [0.89, 1], [1, 0.5]]);
  const g = ramp(t, [[0, 0], [0.125, 0], [0.375, 1], [0.64, 1], [0.91, 0], [1, 0]]);
  const b = ramp(t, [[0, 0.5], [0.11, 1], [0.34, 1], [0.65, 0], [1, 0]]);
  return `rgb(${Math.round(r * 255)},${Math.round(g * 255)},${Math.round(b * 255)})`;
}

function eraCells(rows: number[][]) {
  const out: number[][] = [];
  for (const [b, c0, ...vals] of rows) {
    vals.forEach((v, i) => {
      if (!v) return;
      const c = c0 + i;
      const x0 = Math.max(0, (c - 0.5) * ERA_DX);
      const x1 = Math.min(MAP_W, (c + 0.5) * ERA_DX);
      const y0 = Math.max(0, MAP_H - ERA_DY * (b + 1));
      const y1 = MAP_H - ERA_DY * b;
      out.push([x0, y0, x1, y1, v]);
    });
  }
  return out;
}
function fineCells(rows: number[][]) {
  const out: number[][] = [];
  for (const [r, c0, ...vals] of rows) {
    vals.forEach((v, i) => {
      if (!v) return;
      const c = c0 + i;
      out.push([c * FINE, r * FINE, (c + 1) * FINE, (r + 1) * FINE, v]);
    });
  }
  return out;
}
function polyData(top: number[][], bottom: number[][]) {
  const out: (number | string)[][] = [];
  const add = (line: number[], dy: number) => {
    for (let i = 0; i < line.length; i += 2) out.push([line[i], line[i + 1] + dy]);
    out.push(["-", "-"]);
  };
  top.forEach((l) => add(l, 0));
  bottom.forEach((l) => add(l, HALF_H));
  return out;
}

const panelCells = [
  fineCells(cmccTotalRows),
  eraCells(era5TotalRows),
  fineCells(cmccBandBRows),
  eraCells(era5BandBRows),
  fineCells(cmccBandARows),
  eraCells(era5BandARows),
  fineCells(cmccBandCRows),
  eraCells(era5BandCRows),
];

function buildOption() {
  const coastData = polyData(coastTop, coastBottom);
  const borderData = polyData(borderTop, borderBottom);
  const grid: any[] = [];
  const xAxis: any[] = [];
  const yAxis: any[] = [];
  const series: any[] = [];
  const title: any[] = [];
  const gradientStops = Array.from({ length: 65 }, (_, i) => ({ offset: i / 64, color: jet(i / 64) }));

  panelTitles.forEach((text, p) => {
    const vmax = panelMax[p];
    const mapIdx = p * 2;
    const barIdx = p * 2 + 1;
    title.push({
      text,
      left: panelLefts[p] + PANEL_W / 2,
      top: panelTops[p] - 24,
      padding: 0,
      textAlign: "center",
      textStyle: { fontFamily: FONT, fontSize: 17.8, fontWeight: "normal", color: "#000" },
    });
    grid.push({
      left: panelLefts[p], top: panelTops[p], width: PANEL_W, height: PANEL_H,
      show: true, backgroundColor: NAVY, borderColor: "#000", borderWidth: 1,
    });
    grid.push({ left: barLefts[p], top: panelTops[p], width: BAR_W, height: PANEL_H, show: false });
    xAxis.push({ gridIndex: mapIdx, type: "value", min: 0, max: MAP_W, show: false });
    yAxis.push({ gridIndex: mapIdx, type: "value", min: 0, max: MAP_H, inverse: true, show: false });
    xAxis.push({ gridIndex: barIdx, type: "value", min: 0, max: 1, show: false });
    yAxis.push({
      gridIndex: barIdx, type: "value", position: "right", min: 0, max: vmax,
      splitLine: { show: false },
      axisLine: { show: false },
      axisTick: { show: true, length: 5, customValues: tickValues[p], lineStyle: { color: "#000", width: 1 } },
      axisLabel: {
        show: true, margin: 6, customValues: tickValues[p], color: "#000", fontFamily: FONT, fontSize: 14.7,
        formatter: (v: number) => v.toFixed(tickDigits[p]),
      },
    });
    series.push({
      type: "custom", name: `${text} ${p}`, xAxisIndex: mapIdx, yAxisIndex: mapIdx, z: 2, silent: true,
      progressive: 0, encode: { x: [0, 2], y: [1, 3] }, data: panelCells[p],
      renderItem: (_: any, api: any) => {
        const a = api.coord([api.value(0), api.value(1)]);
        const b = api.coord([api.value(2), api.value(3)]);
        const x = Math.round(a[0]), y = Math.round(a[1]);
        return {
          type: "rect",
          shape: { x, y, width: Math.round(b[0]) - x, height: Math.round(b[1]) - y },
          style: { fill: jet(api.value(4) / vmax) },
        };
      },
    });
    series.push({
      type: "line", name: "borders", xAxisIndex: mapIdx, yAxisIndex: mapIdx, z: 3, silent: true,
      showSymbol: false, symbol: "none", connectNulls: false, clip: true, data: borderData,
      lineStyle: { color: "#000", width: 1.4, type: [1.4, 2.2] },
    });
    series.push({
      type: "line", name: "coast", xAxisIndex: mapIdx, yAxisIndex: mapIdx, z: 4, silent: true,
      showSymbol: false, symbol: "none", connectNulls: false, clip: true, data: coastData,
      lineStyle: { color: "#000", width: 1.7 },
    });
    series.push({
      type: "custom", name: "frame", xAxisIndex: mapIdx, yAxisIndex: mapIdx, z: 5, silent: true,
      encode: { x: [0, 2], y: [1, 3] }, data: [[0, 0, MAP_W, MAP_H]],
      renderItem: (_: any, api: any) => {
        const a = api.coord([api.value(0), api.value(1)]);
        const b = api.coord([api.value(2), api.value(3)]);
        return {
          type: "rect",
          shape: { x: a[0], y: a[1], width: b[0] - a[0], height: b[1] - a[1] },
          style: { fill: "none", stroke: "#000", lineWidth: 1 },
        };
      },
    });
    series.push({
      type: "custom", name: "colorbar", xAxisIndex: barIdx, yAxisIndex: barIdx, z: 2, silent: true,
      encode: { x: [0, 2], y: [1, 3] }, data: [[0, 0, 1, vmax]],
      renderItem: (_: any, api: any) => {
        const a = api.coord([api.value(0), api.value(1)]);
        const b = api.coord([api.value(2), api.value(3)]);
        return {
          type: "rect",
          shape: { x: a[0], y: b[1], width: b[0] - a[0], height: a[1] - b[1] },
          style: {
            fill: new echarts.graphic.LinearGradient(0, 1, 0, 0, gradientStops),
            stroke: "#000", lineWidth: 1,
          },
        };
      },
    });
  });
  return { animation: false, backgroundColor: "#fff", title, grid, xAxis, yAxis, series };
}

export default function App() {
  const ref = useRef<HTMLDivElement>(null);
  useEffect(() => {
    const chart = echarts.init(ref.current!, undefined, { renderer: "svg" });
    chart.setOption(buildOption() as any);
    return () => chart.dispose();
  }, []);
  return <div ref={ref} style={{ position: "fixed", left: 0, top: 0, width: 2692, height: 1748 }} />;
}
